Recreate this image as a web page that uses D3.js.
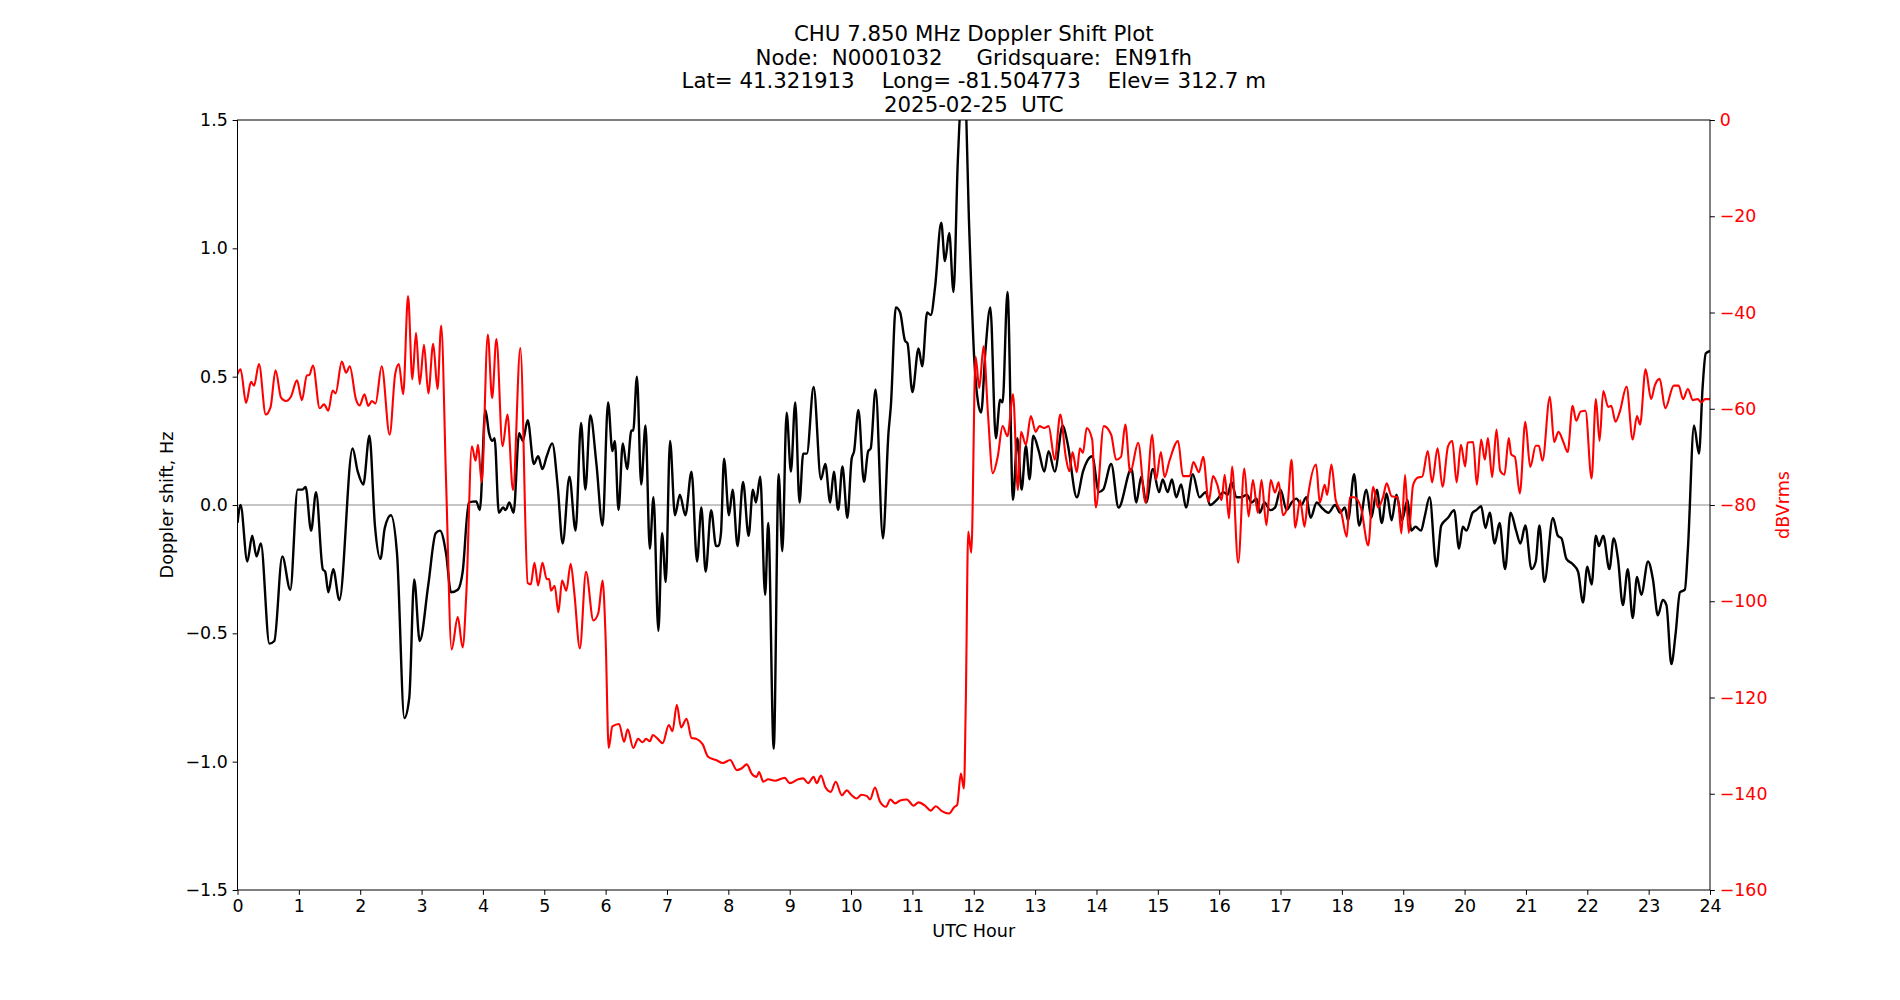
<!DOCTYPE html>
<html lang="en">
<head>
    <meta charset="UTF-8">
    <title>CHU 7.850 MHz Doppler Shift Plot</title>
    <script src="https://d3js.org/d3.v7.min.js"></script>
    <style>
        body { margin: 0; background: #fff; }
        text { font-family: "DejaVu Sans", sans-serif; }
    </style>
</head>
<body>
<svg width="1900" height="1000" id="canvas"></svg>

<script>
    // doppler shift (black) at peaks / troughs
    const dopplerHour = [0.00,0.05,0.16,0.24,0.31,0.38,0.52,0.60,0.73,0.86,0.98,1.06,1.11,1.20,1.28,1.39,1.43,1.48,1.56,1.66,
        1.875,1.96,2.05,2.15,2.24,2.33,2.40,2.50,2.60,2.72,2.80,2.88,2.97,3.11,3.23,3.30,3.40,3.48,3.59,3.67,
        3.77,3.89,3.95,4.04,4.10,4.15,4.19,4.26,4.33,4.37,4.43,4.50,4.59,4.65,4.73,4.83,4.90,4.97,5.04,5.13,
        5.22,5.30,5.41,5.51,5.60,5.67,5.75,5.85,5.95,6.04,6.11,6.15,6.21,6.28,6.35,6.42,6.45,6.51,6.58,6.65,
        6.72,6.78,6.86,6.92,6.98,7.05,7.13,7.21,7.30,7.40,7.49,7.56,7.63,7.72,7.80,7.84,7.88,7.93,8.01,8.07,
        8.15,8.24,8.33,8.40,8.45,8.52,8.60,8.65,8.74,8.82,8.88,8.95,9.02,9.09,9.16,9.22,9.28,9.39,9.51,9.58,
        9.66,9.72,9.79,9.86,9.94,10.01,10.05,10.12,10.21,10.28,10.32,10.40,10.52,10.61,10.65,10.73,10.80,10.88,10.92,11.00,
        11.10,11.16,11.24,11.30,11.37,11.47,11.53,11.60,11.67,11.74,11.84,11.93,12.01,12.07,12.12,12.19,12.27,12.36,12.43,12.47,
        12.55,12.64,12.71,12.78,12.85,12.91,12.97,13.06,13.15,13.22,13.32,13.45,13.53,13.68,13.78,13.93,14.04,14.11,14.24,14.36,
        14.57,14.65,14.73,14.81,14.92,15.02,15.08,15.16,15.23,15.30,15.38,15.46,15.57,15.68,15.78,15.85,15.98,16.07,16.14,16.20,
        16.28,16.36,16.45,16.53,16.61,16.66,16.74,16.83,16.91,17.00,17.10,17.18,17.26,17.34,17.42,17.49,17.59,17.67,17.78,17.89,
        17.97,18.05,18.10,18.20,18.28,18.40,18.48,18.57,18.65,18.73,18.81,18.89,18.98,19.07,19.13,19.20,19.29,19.35,19.43,19.54,
        19.62,19.73,19.83,19.91,19.97,20.03,20.13,20.19,20.27,20.34,20.41,20.49,20.57,20.66,20.75,20.84,20.91,20.99,21.09,21.16,
        21.22,21.30,21.44,21.52,21.58,21.66,21.76,21.85,21.93,22.00,22.07,22.14,22.19,22.26,22.36,22.43,22.50,22.58,22.66,22.74,
        22.81,22.88,22.99,23.07,23.15,23.23,23.29,23.37,23.44,23.51,23.59,23.64,23.74,23.82,23.88,23.93,24.00];
    const dopplerHz = [-0.07,0.0,-0.22,-0.12,-0.20,-0.15,-0.54,-0.53,-0.20,-0.33,0.06,0.06,0.07,-0.10,0.05,-0.25,-0.26,-0.34,-0.25,-0.37,
        0.22,0.13,0.08,0.27,-0.08,-0.21,-0.09,-0.04,-0.19,-0.83,-0.75,-0.29,-0.53,-0.31,-0.11,-0.10,-0.19,-0.34,-0.33,-0.26,
        0.01,0.014,-0.02,0.37,0.28,0.25,0.26,-0.03,-0.01,-0.02,0.01,-0.03,0.28,0.25,0.33,0.16,0.19,0.14,0.19,0.24,
        0.07,-0.15,0.11,-0.10,0.32,0.06,0.35,0.16,-0.08,0.40,0.21,0.25,-0.02,0.24,0.14,0.29,0.29,0.50,0.08,0.31,
        -0.17,0.03,-0.49,-0.11,-0.30,0.25,-0.04,0.04,-0.04,0.13,-0.22,-0.01,-0.26,-0.02,-0.16,-0.16,-0.11,0.18,-0.04,0.06,
        -0.16,0.09,-0.12,0.06,0.01,0.11,-0.35,-0.07,-0.95,0.12,-0.18,0.36,0.13,0.40,0.01,0.20,0.20,0.46,0.10,0.16,
        0.01,0.13,-0.02,0.15,-0.05,0.18,0.21,0.37,0.09,0.21,0.22,0.45,-0.13,0.28,0.39,0.77,0.75,0.64,0.63,0.44,
        0.61,0.54,0.75,0.74,0.85,1.10,0.95,1.06,0.83,1.34,1.70,1.05,0.56,0.40,0.36,0.60,0.77,0.26,0.41,0.40,
        0.83,0.02,0.26,0.06,0.23,0.10,0.27,0.21,0.13,0.21,0.13,0.31,0.24,0.03,0.13,0.19,0.05,0.06,0.16,-0.01,
        0.14,0.01,0.11,0.01,0.14,0.05,0.10,0.05,0.10,0.03,0.08,-0.01,0.12,0.03,0.05,0.00,0.025,0.05,0.04,0.09,
        0.03,0.03,0.04,0.01,0.025,-0.03,0.01,-0.02,-0.01,0.06,-0.02,0.01,0.025,0.00,0.03,-0.05,0.01,-0.01,-0.03,0.00,
        -0.03,-0.01,-0.06,0.12,-0.08,0.06,-0.05,0.06,-0.07,0.045,-0.06,0.04,-0.06,0.02,-0.10,-0.085,-0.10,-0.045,0.03,-0.24,
        -0.08,-0.05,-0.02,-0.17,-0.085,-0.10,-0.03,-0.02,-0.005,-0.09,-0.03,-0.15,-0.07,-0.25,-0.03,-0.10,-0.15,-0.08,-0.25,-0.22,
        -0.08,-0.30,-0.05,-0.12,-0.13,-0.21,-0.23,-0.26,-0.38,-0.24,-0.31,-0.12,-0.16,-0.12,-0.25,-0.13,-0.21,-0.39,-0.25,-0.44,
        -0.28,-0.35,-0.22,-0.29,-0.43,-0.37,-0.39,-0.62,-0.50,-0.34,-0.33,-0.17,0.31,0.20,0.46,0.59,0.60];

    // signal level (red), dBVrms
    const powerHour = [0.00,0.05,0.14,0.22,0.27,0.35,0.46,0.54,0.62,0.71,0.79,0.87,0.97,1.05,1.13,1.17,1.23,1.34,1.41,1.48,
        1.55,1.60,1.70,1.77,1.83,1.93,1.99,2.07,2.13,2.19,2.25,2.35,2.48,2.57,2.63,2.70,2.78,2.85,2.91,2.97,
        3.04,3.11,3.19,3.26,3.32,3.40,3.49,3.59,3.67,3.73,3.82,3.88,3.92,3.98,4.08,4.15,4.22,4.32,4.40,4.49,
        4.61,4.73,4.78,4.84,4.90,4.97,5.04,5.08,5.11,5.17,5.23,5.29,5.36,5.43,5.49,5.58,5.68,5.80,5.88,5.95,
        6.00,6.05,6.11,6.22,6.30,6.36,6.45,6.53,6.60,6.66,6.72,6.77,6.85,6.93,7.03,7.09,7.16,7.23,7.32,7.40,
        7.48,7.58,7.67,7.80,7.91,8.03,8.14,8.22,8.30,8.38,8.46,8.50,8.57,8.65,8.76,8.92,9.00,9.14,9.22,9.30,
        9.39,9.44,9.51,9.58,9.67,9.75,9.85,9.93,10.01,10.09,10.17,10.26,10.31,10.39,10.47,10.57,10.64,10.72,10.80,10.91,
        11.02,11.10,11.21,11.30,11.38,11.48,11.60,11.68,11.73,11.79,11.84,11.87,11.91,11.96,12.03,12.09,12.16,12.23,12.31,12.39,
        12.47,12.55,12.64,12.72,12.77,12.85,12.93,13.01,13.07,13.15,13.22,13.32,13.41,13.50,13.56,13.61,13.68,13.73,13.78,13.84,
        13.93,13.99,14.12,14.24,14.32,14.40,14.47,14.55,14.68,14.80,14.91,14.97,15.05,15.11,15.19,15.33,15.41,15.52,15.58,15.67,
        15.74,15.83,15.90,15.97,16.04,16.09,16.16,16.21,16.31,16.41,16.48,16.55,16.63,16.69,16.77,16.84,16.91,16.97,17.04,17.11,
        17.18,17.24,17.32,17.39,17.45,17.58,17.64,17.72,17.76,17.83,17.90,17.99,18.08,18.13,18.20,18.31,18.43,18.51,18.59,18.67,
        18.73,18.81,18.91,18.97,19.03,19.09,19.16,19.24,19.31,19.40,19.47,19.56,19.64,19.73,19.80,19.87,19.94,20.01,20.05,20.14,
        20.20,20.27,20.33,20.38,20.45,20.52,20.58,20.65,20.72,20.76,20.82,20.90,20.99,21.07,21.16,21.21,21.27,21.39,21.46,21.53,
        21.61,21.68,21.76,21.82,21.89,21.97,22.07,22.14,22.20,22.26,22.34,22.39,22.46,22.53,22.64,22.74,22.81,22.86,22.95,23.04,
        23.10,23.18,23.27,23.41,23.49,23.56,23.64,23.72,23.80,23.86,23.92,24.00];
    const powerDb = [-52.8,-51.8,-58.8,-54.4,-55.2,-50.7,-61.2,-59.6,-52.0,-57.7,-58.4,-57.5,-54.1,-58.2,-53.1,-53.0,-51.0,-59.9,-59.1,-60.4,
        -56.2,-56.8,-50.2,-52.5,-51.2,-58.0,-59.3,-57.0,-59.4,-58.4,-58.9,-51.2,-65.4,-52.8,-50.7,-57.0,-36.6,-53.9,-44.2,-54.9,
        -46.7,-56.8,-46.5,-55.9,-42.7,-75.3,-110.0,-103.3,-109.6,-98.3,-67.8,-70.8,-67.5,-75.3,-44.6,-57.8,-45.5,-67.8,-61.2,-76.9,
        -47.4,-96.2,-96.5,-92.0,-96.7,-92.0,-95.4,-95.4,-97.8,-96.8,-102.3,-95.7,-97.8,-92.2,-98.3,-109.8,-93.9,-104.0,-102.5,-95.7,
        -107.7,-130.5,-126.0,-125.5,-129.2,-126.6,-130.5,-128.6,-129.3,-128.6,-129.1,-127.8,-128.6,-129.5,-125.7,-127.0,-121.5,-126.2,-124.4,-128.4,
        -128.6,-129.7,-132.3,-133.0,-133.6,-133.0,-135.1,-134.7,-133.9,-135.8,-136.5,-135.5,-137.5,-137.0,-137.3,-136.7,-137.8,-137.0,-136.8,-137.8,
        -136.5,-137.8,-136.2,-138.6,-139.6,-137.5,-140.3,-139.3,-140.3,-141.0,-140.2,-140.5,-141.2,-138.7,-141.6,-142.7,-141.2,-142.0,-141.4,-141.2,
        -142.5,-141.8,-142.5,-143.5,-142.6,-143.6,-144.1,-142.8,-142.3,-135.8,-138.9,-121.3,-85.5,-89.9,-49.2,-55.7,-47.0,-60.7,-73.4,-70.0,
        -63.6,-65.7,-57.0,-76.9,-64.8,-67.5,-61.5,-64.8,-63.6,-64.0,-63.6,-70.6,-61.2,-70.0,-73.0,-69.0,-73.2,-68.2,-69.2,-64.0,
        -66.4,-80.5,-63.6,-65.4,-70.6,-70.0,-63.3,-73.2,-67.1,-79.5,-65.4,-74.8,-69.0,-74.2,-70.8,-66.7,-74.0,-74.0,-71.1,-73.2,
        -70.0,-79.3,-74.0,-75.8,-79.0,-73.7,-82.8,-72.0,-92.0,-72.4,-82.4,-74.8,-81.6,-74.8,-84.2,-74.8,-77.4,-75.3,-82.1,-80.5,
        -70.6,-84.7,-79.0,-84.5,-78.0,-71.6,-79.5,-75.8,-77.9,-71.6,-79.0,-81.6,-86.6,-78.4,-78.4,-80.5,-88.4,-76.2,-80.5,-78.4,
        -75.5,-78.2,-78.4,-85.9,-73.7,-85.8,-75.9,-74.3,-74.1,-68.8,-75.3,-68.2,-76.2,-67.8,-66.7,-75.3,-67.5,-72.0,-67.0,-66.9,
        -75.8,-66.4,-70.6,-66.1,-74.2,-64.3,-72.9,-73.7,-66.1,-69.5,-70.0,-77.6,-62.7,-72.1,-67.7,-67.7,-70.8,-57.5,-66.9,-64.8,
        -66.9,-69.0,-59.4,-62.5,-60.6,-60.4,-74.5,-58.0,-66.7,-56.3,-59.6,-59.4,-62.7,-60.6,-55.4,-66.4,-61.5,-63.3,-51.8,-58.0,
        -55.2,-53.8,-59.9,-55.2,-55.2,-58.0,-55.9,-58.2,-58.0,-58.7,-58.0,-58.0];

    const titleLines = [
        "CHU 7.850 MHz Doppler Shift Plot",
        "Node:  N0001032     Gridsquare:  EN91fh",
        "Lat= 41.321913    Long= -81.504773    Elev= 312.7 m",
        "2025-02-25  UTC"
    ];
    const xTicks = d3.range(0, 25, 1);
    const leftTicks = [-1.5, -1.0, -0.5, 0.0, 0.5, 1.0, 1.5];
    const rightTicks = [0, -20, -40, -60, -80, -100, -120, -140, -160];

    let svg = d3.select("svg");

    // axes box (same fractions matplotlib uses by default)
    const plotLeft = 237.5, plotRight = 1710, plotTop = 120, plotBottom = 890;

    let x = d3.scaleLinear().domain([0, 24]).range([plotLeft, plotRight]);
    let yHz = d3.scaleLinear().domain([-1.5, 1.5]).range([plotBottom, plotTop]);
    let yDb = d3.scaleLinear().domain([-160, 0]).range([plotBottom, plotTop]);

    svg.append("defs").append("clipPath").attr("id", "plotclip")
        .append("rect")
        .attr("x", plotLeft).attr("y", plotTop)
        .attr("width", plotRight - plotLeft).attr("height", plotBottom - plotTop);

    // zero line
    svg.append("line")
        .attr("x1", plotLeft).attr("x2", plotRight)
        .attr("y1", yHz(0)).attr("y2", yHz(0))
        .attr("stroke", "#8c8c8c")
        .attr("stroke-width", 1);

    const dopplerData = dopplerHour.map((h, i) => ({h: h, v: dopplerHz[i]}));
    const powerData = powerHour.map((h, i) => ({h: h, v: powerDb[i]}));

    let plot = svg.append("g").attr("clip-path", "url(#plotclip)");

    plot.append("path")
        .datum(dopplerData)
        .attr("fill", "none")
        .attr("stroke", "black")
        .attr("stroke-width", 2.4)
        .attr("stroke-linejoin", "round")
        .attr("d", d3.line().x(d => x(d.h)).y(d => yHz(d.v)).curve(d3.curveMonotoneX));

    plot.append("path")
        .datum(powerData)
        .attr("fill", "none")
        .attr("stroke", "red")
        .attr("stroke-width", 2.1)
        .attr("stroke-linejoin", "round")
        .attr("d", d3.line().x(d => x(d.h)).y(d => yDb(d.v)).curve(d3.curveMonotoneX));

    // axes
    const tickLen = 4.86, tickPad = 4.86;
    const tickFont = "17.4px";

    let gx = svg.append("g")
        .attr("transform", `translate(0,${plotBottom})`)
        .call(d3.axisBottom(x).tickValues(xTicks).tickFormat(d3.format("d"))
            .tickSize(tickLen).tickPadding(tickPad));

    let gl = svg.append("g")
        .attr("transform", `translate(${plotLeft},0)`)
        .call(d3.axisLeft(yHz).tickValues(leftTicks).tickFormat(d3.format(".1f"))
            .tickSize(tickLen).tickPadding(tickPad));

    let gr = svg.append("g")
        .attr("transform", `translate(${plotRight},0)`)
        .call(d3.axisRight(yDb).tickValues(rightTicks).tickFormat(d3.format("d"))
            .tickSize(tickLen).tickPadding(tickPad));

    [gx, gl, gr].forEach(g => {
        g.select(".domain").remove();
        g.selectAll("line").attr("stroke", "black").attr("stroke-width", 1);
        g.selectAll("text")
            .attr("font-family", "DejaVu Sans")
            .attr("font-size", tickFont)
            .attr("fill", "black");
    });
    gr.selectAll("text").attr("fill", "red");

    // frame
    svg.append("rect")
        .attr("x", plotLeft).attr("y", plotTop)
        .attr("width", plotRight - plotLeft).attr("height", plotBottom - plotTop)
        .attr("fill", "none")
        .attr("stroke", "black")
        .attr("stroke-width", 1);

    // labels
    svg.append("text")
        .attr("x", (plotLeft + plotRight) / 2).attr("y", 937)
        .attr("text-anchor", "middle")
        .attr("font-size", "17.6px")
        .text("UTC Hour");

    svg.append("text")
        .attr("transform", `translate(173,${(plotTop + plotBottom) / 2}) rotate(-90)`)
        .attr("text-anchor", "middle")
        .attr("font-size", "17.6px")
        .text("Doppler shift, Hz");

    svg.append("text")
        .attr("transform", `translate(1789,${(plotTop + plotBottom) / 2}) rotate(-90)`)
        .attr("text-anchor", "middle")
        .attr("font-size", "17.6px")
        .attr("fill", "red")
        .text("dBVrms");

    // title
    svg.append("g").selectAll("text")
        .data(titleLines)
        .enter()
        .append("text")
        .attr("x", (plotLeft + plotRight) / 2)
        .attr("y", (d, i) => 111.7 - (titleLines.length - 1 - i) * 23.6)
        .attr("text-anchor", "middle")
        .attr("font-size", "21.3px")
        .attr("xml:space", "preserve")
        .style("white-space", "pre")
        .text(d => d);
</script>
</body>
</html>
